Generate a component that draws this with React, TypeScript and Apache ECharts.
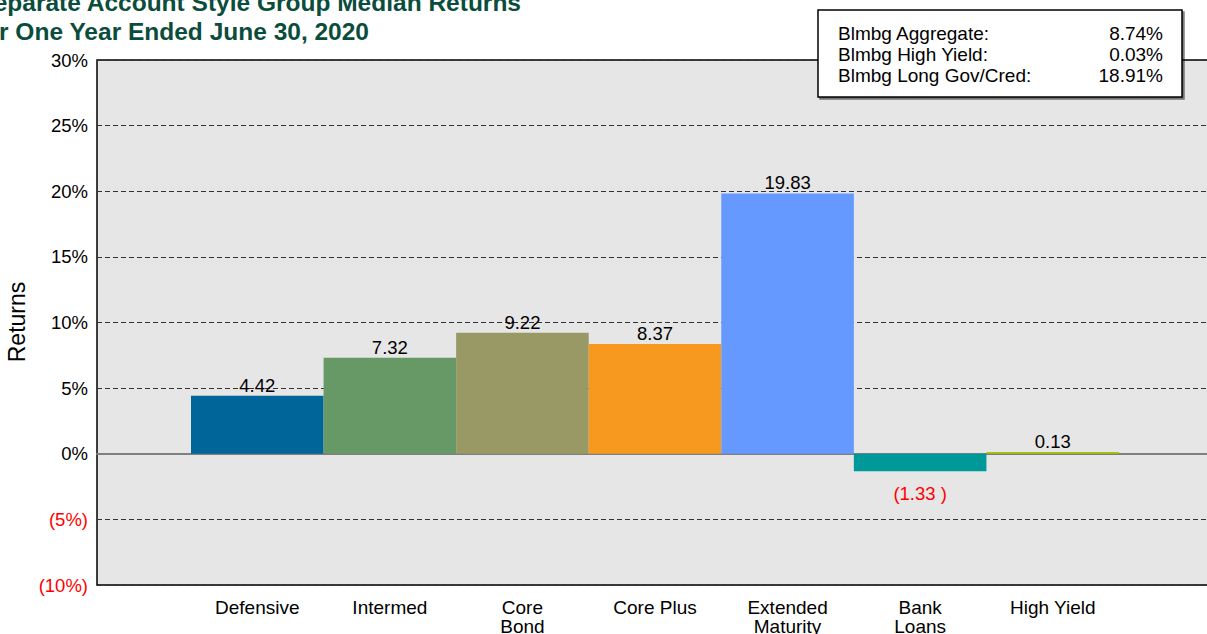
import React, { useEffect, useRef } from "react";
import * as echarts from "echarts";

const categories = ["Defensive", "Intermed", "Core\nBond", "Core Plus", "Extended\nMaturity", "Bank\nLoans", "High Yield"];
const medianReturns = [4.42, 7.32, 9.22, 8.37, 19.83, -1.33, 0.13];
const barColors = ["#006699", "#669966", "#999966", "#F7991F", "#6699FF", "#009999", "#A5C800"];
const indexNames = ["Blmbg Aggregate:", "Blmbg High Yield:", "Blmbg Long Gov/Cred:"];
const indexValues = ["8.74%", "0.03%", "18.91%"];
const titleLines = ["Separate Account Style Group Median Returns", "for One Year Ended June 30, 2020"];
const yMin = -10;
const yMax = 30;
const yStep = 5;

const FONT = "'Liberation Sans', Arial, sans-serif";

export default function App() {
  const ref = useRef<HTMLDivElement>(null);
  useEffect(() => {
    if (!ref.current) return;
    const chart = echarts.init(ref.current, undefined, { renderer: "svg" });
    const fmtTick = (v: number) => (v < 0 ? `{neg|(${Math.abs(v)}%)}` : `{pos|${v}%}`);
    const legendRows: any[] = [];
    indexNames.forEach((n, i) => {
      legendRows.push({
        type: "text",
        x: 838,
        y: 33 + i * 21,
        style: { text: n, font: `19px ${FONT}`, fill: "#000", textAlign: "left", textVerticalAlign: "middle" },
        z: 11,
      });
      legendRows.push({
        type: "text",
        x: 1163,
        y: 33 + i * 21,
        style: { text: indexValues[i], font: `19px ${FONT}`, fill: "#000", textAlign: "right", textVerticalAlign: "middle" },
        z: 11,
      });
    });
    chart.setOption({
      animation: false,
      backgroundColor: "#ffffff",
      textStyle: { fontFamily: FONT },
      grid: [
        { left: 97, top: 60, width: 1140, height: 525, show: true, backgroundColor: "#e6e6e6", borderColor: "#000", borderWidth: 1.5, containLabel: false, outerBoundsMode: "none" },
        { left: 191, top: 60, width: 928, height: 525, containLabel: false, outerBoundsMode: "none" },
      ],
      xAxis: [
        {
          gridIndex: 0, type: "value", min: 0, max: 1, show: true,
          axisLine: { show: true, onZero: true, lineStyle: { color: "#7f7f7f", width: 2 } },
          axisTick: { show: false }, axisLabel: { show: false }, splitLine: { show: false },
        },
        {
          gridIndex: 1, type: "category", data: categories,
          axisLine: { show: false }, axisTick: { show: false },
          axisLabel: { interval: 0, color: "#000", fontSize: 19, lineHeight: 19, margin: 13, fontFamily: FONT },
        },
      ],
      yAxis: [
        {
          gridIndex: 0, type: "value", min: yMin, max: yMax, interval: yStep,
          axisLine: { show: false }, axisTick: { show: false },
          axisLabel: {
            margin: 9, formatter: fmtTick,
            rich: { pos: { color: "#000", fontSize: 18.5, fontFamily: FONT }, neg: { color: "#ff0000", fontSize: 18.5, fontFamily: FONT } },
          },
          splitLine: { show: true, lineStyle: { color: "#333", type: [5, 3], width: 1 } },
        },
        { gridIndex: 1, type: "value", min: yMin, max: yMax, interval: yStep, show: false, splitLine: { show: false } },
      ],
      series: [
        {
          type: "bar", xAxisIndex: 1, yAxisIndex: 1, barCategoryGap: 0, barGap: 0,
          data: medianReturns.map((v, i) => ({
            value: v,
            itemStyle: { color: barColors[i] },
            label: v < 0
              ? { show: true, position: "bottom", distance: 13, color: "#ff0000", formatter: () => `(${Math.abs(v).toFixed(2)} )` }
              : { show: true, position: "top", distance: 1, color: "#000", formatter: () => v.toFixed(2) },
          })),
          label: { fontSize: 18.5, fontFamily: FONT },
        },
      ],
      graphic: [
        {
          type: "text", x: 521, y: 2,
          style: { text: titleLines[0], font: `bold 24.5px ${FONT}`, fill: "#0b4d3c", textAlign: "right", textVerticalAlign: "middle" },
        },
        {
          type: "text", x: 369, y: 31,
          style: { text: titleLines[1], font: `bold 24.5px ${FONT}`, fill: "#0b4d3c", textAlign: "right", textVerticalAlign: "middle" },
        },
        {
          type: "text", x: 17, y: 322, rotation: Math.PI / 2,
          style: { text: "Returns", font: `23px ${FONT}`, fill: "#000", textAlign: "center", textVerticalAlign: "middle" },
        },
        {
          type: "rect", shape: { x: 818, y: 10, width: 364, height: 87 }, z: 10,
          style: { fill: "#fff", stroke: "#000", lineWidth: 1.5, shadowColor: "rgba(0,0,0,0.5)", shadowOffsetX: 2, shadowOffsetY: 2, shadowBlur: 1 },
        },
        ...legendRows,
      ],
    });
    return () => chart.dispose();
  }, []);
  return <div ref={ref} style={{ position: "fixed", left: 0, top: 0, width: 1207, height: 634 }} />;
}
